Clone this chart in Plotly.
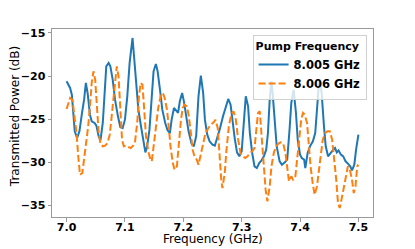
import plotly.graph_objects as go

freq_a = [7.000, 7.003, 7.006, 7.009, 7.011, 7.014, 7.018, 7.022, 7.026, 7.030, 7.033, 7.036, 7.040, 7.043, 7.048, 7.051, 7.055, 7.058, 7.062, 7.065,
          7.068, 7.072, 7.075, 7.079, 7.083, 7.088, 7.092, 7.096, 7.100, 7.104, 7.108, 7.113, 7.116, 7.120, 7.123, 7.128, 7.131, 7.135, 7.138, 7.142,
          7.146, 7.149, 7.153, 7.156, 7.160, 7.164, 7.169, 7.173, 7.177, 7.180, 7.184, 7.187, 7.191, 7.194, 7.198, 7.201, 7.205, 7.209, 7.214, 7.218,
          7.222, 7.226, 7.230, 7.234, 7.237, 7.241, 7.245, 7.250, 7.254, 7.259, 7.263, 7.268, 7.273, 7.277, 7.281, 7.284, 7.288, 7.292, 7.296, 7.300,
          7.304, 7.307, 7.311, 7.314, 7.318, 7.322, 7.326, 7.330, 7.334, 7.338, 7.342, 7.345, 7.348, 7.351, 7.353, 7.357, 7.360, 7.365, 7.369, 7.374,
          7.378, 7.382, 7.385, 7.389, 7.393, 7.396, 7.400, 7.403, 7.407, 7.409, 7.413, 7.417, 7.422, 7.426, 7.429, 7.432, 7.434, 7.437, 7.441, 7.444,
          7.448, 7.452, 7.456, 7.460, 7.463, 7.466, 7.470, 7.474, 7.478, 7.482, 7.486, 7.489, 7.493, 7.496, 7.500]
power_a = [-20.61, -21.11, -21.38, -22.16, -23.90, -26.41, -27.19, -26.41, -24.48, -22.74, -20.80, -21.96, -24.48, -25.25, -25.44, -25.75, -26.99, -27.46, -25.44, -21.96,
           -18.87, -18.48, -18.87, -20.42, -22.74, -24.67, -25.91, -26.03, -25.06, -22.35, -18.48, -15.58, -18.09, -21.19, -23.90, -26.03, -27.38, -28.85, -28.15, -26.22,
           -22.35, -19.45, -18.60, -19.45, -21.58, -23.90, -25.44, -26.30, -26.61, -25.06, -23.70, -23.90, -24.28, -22.93, -21.96, -22.93, -24.48, -26.41, -27.84, -28.15,
           -26.99, -22.35, -19.95, -21.96, -25.06, -26.80, -27.57, -27.96, -28.08, -26.99, -26.03, -24.67, -23.43, -22.66, -23.32, -25.06, -27.19, -28.85, -29.31, -28.73,
           -25.06, -22.35, -23.51, -26.61, -28.93, -30.47, -30.67, -30.09, -29.78, -29.31, -28.54, -26.61, -22.74, -20.61, -21.96, -25.06, -28.15, -29.89, -30.28, -30.01,
           -29.70, -26.22, -23.12, -21.58, -24.28, -27.38, -29.12, -29.51, -29.70, -30.67, -28.93, -28.15, -27.57, -26.61, -23.51, -21.19, -20.42, -21.96, -25.83, -28.15,
           -29.31, -28.93, -28.62, -28.35, -28.85, -28.62, -29.12, -29.31, -29.89, -30.16, -30.47, -30.94, -30.28, -28.54, -26.80]

freq_b = [7.000, 7.003, 7.006, 7.010, 7.013, 7.017, 7.020, 7.023, 7.027, 7.030, 7.034, 7.037, 7.040, 7.043, 7.046, 7.049, 7.052, 7.055, 7.058, 7.062,
          7.066, 7.070, 7.074, 7.078, 7.082, 7.086, 7.089, 7.092, 7.095, 7.098, 7.102, 7.106, 7.110, 7.114, 7.117, 7.121, 7.124, 7.127, 7.130, 7.133,
          7.136, 7.140, 7.143, 7.146, 7.149, 7.153, 7.157, 7.161, 7.165, 7.168, 7.172, 7.175, 7.178, 7.182, 7.185, 7.189, 7.192, 7.196, 7.199, 7.202,
          7.206, 7.209, 7.213, 7.216, 7.219, 7.223, 7.226, 7.230, 7.234, 7.238, 7.243, 7.247, 7.252, 7.255, 7.259, 7.262, 7.265, 7.267, 7.271, 7.274,
          7.278, 7.282, 7.286, 7.290, 7.294, 7.298, 7.302, 7.306, 7.310, 7.314, 7.318, 7.322, 7.325, 7.328, 7.331, 7.334, 7.338, 7.341, 7.344, 7.348,
          7.351, 7.355, 7.359, 7.363, 7.367, 7.371, 7.375, 7.378, 7.381, 7.385, 7.388, 7.392, 7.395, 7.399, 7.402, 7.405, 7.408, 7.412, 7.415, 7.418,
          7.422, 7.425, 7.429, 7.432, 7.436, 7.439, 7.443, 7.447, 7.451, 7.455, 7.458, 7.462, 7.465, 7.468, 7.471, 7.474, 7.478, 7.482, 7.486, 7.489,
          7.492, 7.495, 7.498, 7.500]
power_b = [-23.82, -23.20, -22.54, -22.74, -24.28, -26.61, -29.31, -31.44, -31.25, -29.70, -27.77, -25.83, -23.51, -20.80, -19.45, -20.42, -23.51, -26.61, -27.84, -28.15,
           -28.08, -27.77, -26.80, -24.28, -21.19, -18.87, -20.03, -23.51, -27.38, -28.15, -28.08, -28.23, -28.35, -28.08, -27.77, -25.44, -22.35, -20.80, -21.00, -23.90,
           -26.99, -28.73, -29.51, -29.89, -28.15, -25.83, -23.70, -22.35, -21.96, -22.54, -23.90, -25.83, -28.15, -30.09, -30.86, -30.47, -27.77, -25.06, -23.70, -23.32,
           -23.51, -24.48, -26.61, -28.54, -29.31, -29.70, -30.28, -28.93, -27.57, -26.61, -26.03, -25.64, -25.37, -25.06, -26.03, -29.31, -32.02, -32.99, -31.25, -28.54,
           -25.83, -24.48, -24.09, -25.06, -27.38, -28.93, -29.31, -29.51, -29.31, -28.93, -28.73, -28.35, -26.22, -24.28, -24.09, -26.61, -30.47, -33.18, -34.54, -32.80,
           -30.47, -28.93, -28.15, -27.84, -27.69, -27.77, -28.93, -30.86, -32.21, -31.63, -32.02, -31.63, -29.70, -27.38, -25.06, -24.28, -24.48, -25.44, -28.15, -30.47,
           -32.60, -33.76, -32.80, -30.86, -28.93, -27.38, -26.61, -26.41, -26.41, -27.38, -29.31, -32.02, -34.73, -35.31, -34.34, -33.18, -31.63, -30.47, -31.05, -32.02,
           -33.57, -32.80, -30.47, -30.28]

series_names = ["8.005 GHz", "8.006 GHz"]
legend_title = "Pump Frequency"
x_title = "Frequency (GHz)"
y_title = "Transmitted Power (dB)"
x_ticks = [7.0, 7.1, 7.2, 7.3, 7.4, 7.5]
y_ticks = [-35, -30, -25, -20, -15]

FONT = "DejaVu Sans"

fig = go.Figure()
fig.add_trace(go.Scatter(x=freq_a, y=power_a, mode="lines", name=series_names[0],
                         line=dict(color="#1f77b4", width=2)))
fig.add_trace(go.Scatter(x=freq_b, y=power_b, mode="lines", name=series_names[1],
                         line=dict(color="#ff7f0e", width=2, dash="7px,3px")))

axis_common = dict(showline=True, linecolor="#9a9a9a", linewidth=1, mirror=True,
                   ticks="outside", ticklen=3.5, tickwidth=1, tickcolor="#9a9a9a",
                   showgrid=False, zeroline=False, automargin=False,
                   tickfont=dict(family=FONT, size=11, color="black", weight="bold"))

fig.update_layout(
    width=415, height=249,
    margin=dict(l=52, r=42, t=29, b=32, autoexpand=False),
    paper_bgcolor="white", plot_bgcolor="white",
    showlegend=True,
    legend=dict(
        x=0.98, y=0.97, xanchor="right", yanchor="top",
        bgcolor="rgba(255,255,255,0.8)", bordercolor="#d0d0d0", borderwidth=1,
        font=dict(family=FONT, size=11.5, color="black", weight="bold"),
        title=dict(text=legend_title, font=dict(family=FONT, size=11, color="black", weight="bold")),
        itemwidth=30, tracegroupgap=0,
    ),
    annotations=[
        dict(text=x_title, xref="paper", yref="paper", x=0.5, y=-0.115,
             xanchor="center", yanchor="middle", showarrow=False,
             font=dict(family=FONT, size=12, color="black")),
        dict(text=y_title, xref="paper", yref="paper", x=-0.113, y=0.535,
             xanchor="center", yanchor="middle", showarrow=False, textangle=-90,
             font=dict(family=FONT, size=12, color="black")),
    ],
)
fig.update_xaxes(range=[6.975, 7.525], tickvals=x_ticks, tickformat=".1f",
                 ticklabelstandoff=-4, **axis_common)
fig.update_yaxes(range=[-36.35, -14.54], tickvals=y_ticks, **axis_common)

fig.write_html("out.html", config={"displayModeBar": False},
               post_script="document.body.style.margin='0';document.body.style.overflow='hidden';")
